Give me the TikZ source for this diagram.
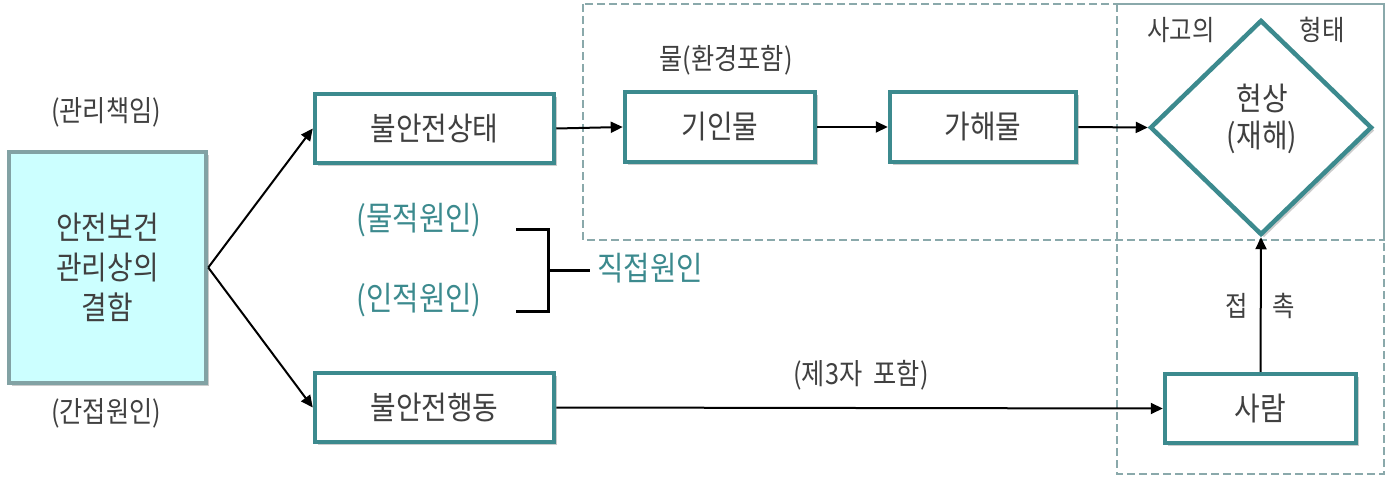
\documentclass[tikz,border=0pt]{standalone}
\usepackage{fontspec}
\setmainfont[FakeStretch=0.87]{Noto Sans CJK KR}
\usetikzlibrary{shapes.geometric,shadows,arrows.meta}
\definecolor{tealb}{HTML}{3C8A8E}
\definecolor{gborder}{HTML}{82A2A4}
\definecolor{cyanfill}{HTML}{CCFFFF}
\definecolor{dashc}{HTML}{8AA9AB}
\definecolor{txt}{HTML}{404040}
\begin{document}
\begin{tikzpicture}[x=1pt,y=-1pt,
  shad/.style={drop shadow={shadow xshift=3pt,shadow yshift=-3pt,opacity=0.2,fill=black}},
  box/.style={draw=tealb,line width=4.5pt,fill=white,shad,minimum height=69pt,inner sep=0pt,
    text=txt,font=\fontsize{32}{36}\selectfont},
  lbl/.style={text=txt,font=\fontsize{29}{32}\selectfont,inner sep=0pt},
  slbl/.style={text=txt,font=\fontsize{28}{32}\selectfont,inner sep=0pt},
  tlbl/.style={text=tealb,font=\fontsize{33}{36}\selectfont,inner sep=0pt},
  arr/.style={draw=black,line width=2pt,-{Triangle[length=12pt,width=11pt]}},
  dashbox/.style={draw=dashc,line width=2.5pt,dash pattern=on 8pt off 4pt},
  brk/.style={draw=black,line width=3pt}]
\useasboundingbox (0,0) rectangle (1390,477);
% dashed groups
\draw[dashbox] (583,4) rectangle (1384,240);
\draw[dashbox] (1117,4) rectangle (1384,474);
% left box
\node[draw=gborder,line width=4.5pt,fill=cyanfill,shad,minimum width=197pt,minimum height=231pt,
  text=txt,align=center,font=\fontsize{32}{40}\selectfont,inner sep=0pt] (lb) at (107.5,267.5)
  {안전보건\\관리상의\\결함};
\node[lbl] (l1) at (106,112) {(관리책임)};
\node[lbl] (l2) at (106,413) {(간접원인)};
% boxes
\node[box,minimum width=239pt] (s1) at (434.5,128.5) {불안전상태};
\node[box,minimum width=239pt] (s2) at (434.5,407.5) {불안전행동};
\node[box,minimum width=190pt,minimum height=70pt] (k) at (720,127) {기인물};
\node[box,minimum width=186pt,minimum height=70pt] (g) at (983,127) {가해물};
\node[box,minimum width=191pt] (p) at (1260.5,408.5) {사람};
\node[diamond,draw=tealb,line width=4.5pt,fill=white,shad,minimum width=222pt,minimum height=215pt,inner sep=0pt] (d) at (1261,127.5) {};
\node[text=txt,align=center,inner sep=0pt,font=\fontsize{32}{37}\selectfont] (dt) at (1262,118.5) {현상\\(재해)};
% labels
\node[lbl] (m) at (726,60) {물(환경포함)};
\node[slbl] (sg) at (1181,30) {사고의};
\node[slbl] (ht) at (1322,30) {형태};
\node[slbl] (j1) at (1237,306) {접};
\node[slbl] (j2) at (1284,306) {촉};
\node[lbl] (c3) at (861,375) {(제3자\ \ 포함)};
\node[tlbl] (r1) at (419,220) {(물적원인)};
\node[tlbl] (r2) at (419,300) {(인적원인)};
\node[tlbl] (r3) at (650,268) {직접원인};
% bracket
\coordinate (b1) at (516,229);
\coordinate (b2) at (548,229);
\coordinate (b3) at (548,311);
\coordinate (b4) at (516,311);
\coordinate (bm) at (548,270);
\coordinate (bt) at (590,270);
\draw[brk] (b1) -- (b2) -- (b3) -- (b4);
\draw[brk] (bm) -- (bt);
% arrows
\draw[arr] (lb.east) -- (s1.west);
\draw[arr] (lb.east) -- (s2.west);
\draw[arr] (s1.east) -- (k.west);
\draw[arr] (k.east) -- (g.west);
\draw[arr] (g.east) -- (d.west);
\draw[arr] (s2.east) -- (p.west);
\draw[arr] (p.north) -- (d.south);
\end{tikzpicture}
\end{document}
